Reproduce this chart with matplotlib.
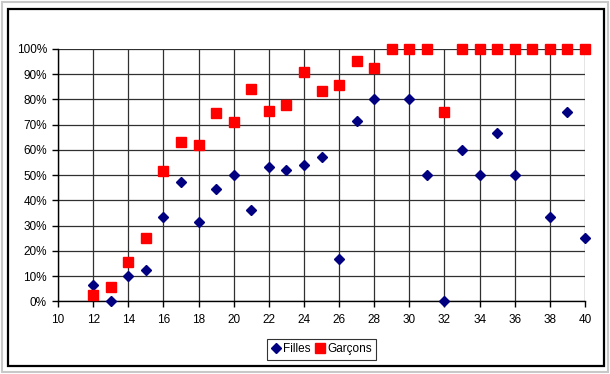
import matplotlib
matplotlib.use('Agg')
import matplotlib.pyplot as plt
from matplotlib.patches import Rectangle
from matplotlib.ticker import FuncFormatter

plt.rcParams['font.family'] = ['Liberation Sans', 'DejaVu Sans']

# données
ages_f = [12, 13, 14, 15, 16, 17, 18, 19, 20, 21, 22, 23, 24, 25, 26, 27, 28,
          30, 31, 32, 33, 34, 35, 36, 38, 39, 40]
filles = [6.7, 0, 10, 12.5, 33.3, 47.4, 31.6, 44.4, 50, 36.4, 53.3, 52.2, 54, 57.1, 16.7, 71.4, 80,
          80, 50, 0, 60, 50, 66.7, 50, 33.3, 75, 25]

ages_g = [12, 13, 14, 15, 16, 17, 18, 19, 20, 21, 22, 23, 24, 25, 26, 27, 28,
          29, 30, 31, 32, 33, 34, 35, 36, 37, 38, 39, 40]
garcons = [2.5, 5.9, 15.8, 25, 51.5, 63, 62, 74.6, 71, 84.2, 75.6, 77.8, 91, 83.3, 85.7, 95.2, 92.3,
           100, 100, 100, 75, 100, 100, 100, 100, 100, 100, 100, 100]

fig = plt.figure(figsize=(6.1, 3.74), dpi=100)
# cadres
fig.patches.append(Rectangle((0.003, 0.005), 0.994, 0.99, transform=fig.transFigure,
                             fill=False, edgecolor='#c8c8c8', linewidth=1.5))
fig.patches.append(Rectangle((0.013, 0.021), 0.977, 0.954, transform=fig.transFigure,
                             fill=False, edgecolor='black', linewidth=1.6))

ax = fig.add_axes([0.0951, 0.194, 0.8639, 0.675])
ax.set_xlim(10, 40)
ax.set_ylim(0, 100)
ax.set_xticks(range(10, 41, 2))
ax.set_yticks(range(0, 101, 10))
ax.yaxis.set_major_formatter(FuncFormatter(lambda v, p: '%d%%' % v))
ax.grid(True, color='#303030', linewidth=0.9)
ax.set_axisbelow(True)
for s in ['top', 'right']:
    ax.spines[s].set_visible(False)
for s in ['left', 'bottom']:
    ax.spines[s].set_color('black')
    ax.spines[s].set_linewidth(1)
ax.tick_params(direction='out', length=4, width=1, labelsize=8.5)
ax.tick_params(axis='x', pad=5)
ax.tick_params(axis='y', pad=4)

ax.plot(ages_f, filles, 'D', color='#000080', markersize=4.6, label='Filles', clip_on=False, zorder=3)
ax.plot(ages_g, garcons, 's', color='#ff0000', markersize=6.5, label='Garçons', clip_on=False, zorder=3)

leg = ax.legend(loc='upper center', bbox_to_anchor=(0.5, -0.15), ncol=2, fontsize=8.5,
                frameon=True, fancybox=False, edgecolor='black', handlelength=0.8,
                handletextpad=0.2, columnspacing=0.4, borderpad=0.35, borderaxespad=0)
leg.get_frame().set_linewidth(0.8)

fig.savefig('out.png', dpi=100)
